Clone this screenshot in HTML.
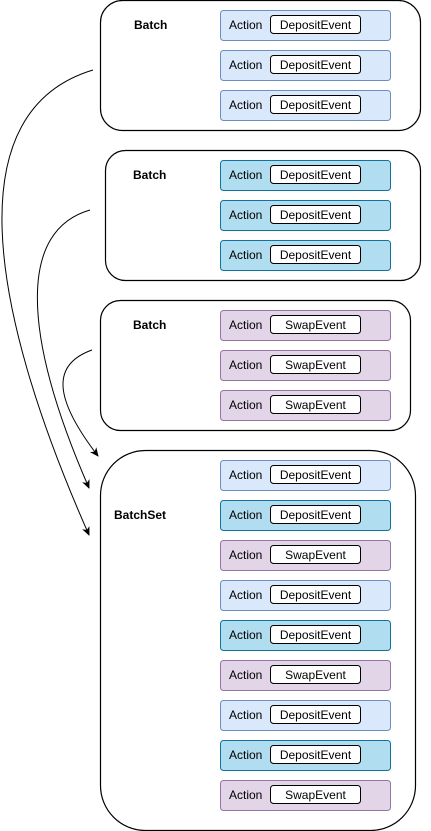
<!DOCTYPE html>
<html><head><style>body{margin:0;background:#fff}svg{display:block}</style></head><body>
<svg width="431" height="831" xmlns="http://www.w3.org/2000/svg" font-family="Liberation Sans, Arial, sans-serif">
<defs><marker id="a" markerWidth="10" markerHeight="10" refX="8" refY="4" orient="auto" markerUnits="userSpaceOnUse"><path d="M0,0 L9,4 L0,8 L2.5,4 Z" fill="#000"/></marker></defs>
<g fill="#fff" stroke="#000" stroke-width="1.2">
<rect x="100.5" y="0.5" width="320" height="130" rx="22"/>
<rect x="105.5" y="150.5" width="315" height="130" rx="20"/>
<rect x="100.5" y="300.5" width="310" height="130" rx="20"/>
<rect x="100.5" y="450.5" width="315" height="380" rx="45"/>
</g>
<g font-size="12" font-weight="bold">
<text x="134" y="29">Batch</text>
<text x="133" y="179">Batch</text>
<text x="133" y="329">Batch</text>
<text x="114" y="519">BatchSet</text>
</g>
<g fill="none" stroke="#000" stroke-width="1">
<path d="M93,70 C -40,110 -15,300 89,535" marker-end="url(#a)"/>
<path d="M90,210 C 20,230 20,330 89,488" marker-end="url(#a)"/>
<path d="M92,350 C 50,365 55,400 98,456" marker-end="url(#a)"/>
</g>
<g font-size="12">
<g transform="translate(220,10)"><rect x="0.5" y="0.5" width="170" height="30" rx="3" fill="#dae8fc" stroke="#6c8ebf"/><text x="9" y="19">Action</text><rect x="50.5" y="5.5" width="90" height="18" rx="3" fill="#fff" stroke="#000"/><text x="95.5" y="19" text-anchor="middle">DepositEvent</text></g>
<g transform="translate(220,50)"><rect x="0.5" y="0.5" width="170" height="30" rx="3" fill="#dae8fc" stroke="#6c8ebf"/><text x="9" y="19">Action</text><rect x="50.5" y="5.5" width="90" height="18" rx="3" fill="#fff" stroke="#000"/><text x="95.5" y="19" text-anchor="middle">DepositEvent</text></g>
<g transform="translate(220,90)"><rect x="0.5" y="0.5" width="170" height="30" rx="3" fill="#dae8fc" stroke="#6c8ebf"/><text x="9" y="19">Action</text><rect x="50.5" y="5.5" width="90" height="18" rx="3" fill="#fff" stroke="#000"/><text x="95.5" y="19" text-anchor="middle">DepositEvent</text></g>
<g transform="translate(220,160)"><rect x="0.5" y="0.5" width="170" height="30" rx="3" fill="#b1ddf0" stroke="#10739e"/><text x="9" y="19">Action</text><rect x="50.5" y="5.5" width="90" height="18" rx="3" fill="#fff" stroke="#000"/><text x="95.5" y="19" text-anchor="middle">DepositEvent</text></g>
<g transform="translate(220,200)"><rect x="0.5" y="0.5" width="170" height="30" rx="3" fill="#b1ddf0" stroke="#10739e"/><text x="9" y="19">Action</text><rect x="50.5" y="5.5" width="90" height="18" rx="3" fill="#fff" stroke="#000"/><text x="95.5" y="19" text-anchor="middle">DepositEvent</text></g>
<g transform="translate(220,240)"><rect x="0.5" y="0.5" width="170" height="30" rx="3" fill="#b1ddf0" stroke="#10739e"/><text x="9" y="19">Action</text><rect x="50.5" y="5.5" width="90" height="18" rx="3" fill="#fff" stroke="#000"/><text x="95.5" y="19" text-anchor="middle">DepositEvent</text></g>
<g transform="translate(220,310)"><rect x="0.5" y="0.5" width="170" height="30" rx="3" fill="#e1d5e7" stroke="#9673a6"/><text x="9" y="19">Action</text><rect x="50.5" y="5.5" width="90" height="18" rx="3" fill="#fff" stroke="#000"/><text x="95.5" y="19" text-anchor="middle">SwapEvent</text></g>
<g transform="translate(220,350)"><rect x="0.5" y="0.5" width="170" height="30" rx="3" fill="#e1d5e7" stroke="#9673a6"/><text x="9" y="19">Action</text><rect x="50.5" y="5.5" width="90" height="18" rx="3" fill="#fff" stroke="#000"/><text x="95.5" y="19" text-anchor="middle">SwapEvent</text></g>
<g transform="translate(220,390)"><rect x="0.5" y="0.5" width="170" height="30" rx="3" fill="#e1d5e7" stroke="#9673a6"/><text x="9" y="19">Action</text><rect x="50.5" y="5.5" width="90" height="18" rx="3" fill="#fff" stroke="#000"/><text x="95.5" y="19" text-anchor="middle">SwapEvent</text></g>
<g transform="translate(220,460)"><rect x="0.5" y="0.5" width="170" height="30" rx="3" fill="#dae8fc" stroke="#6c8ebf"/><text x="9" y="19">Action</text><rect x="50.5" y="5.5" width="90" height="18" rx="3" fill="#fff" stroke="#000"/><text x="95.5" y="19" text-anchor="middle">DepositEvent</text></g>
<g transform="translate(220,500)"><rect x="0.5" y="0.5" width="170" height="30" rx="3" fill="#b1ddf0" stroke="#10739e"/><text x="9" y="19">Action</text><rect x="50.5" y="5.5" width="90" height="18" rx="3" fill="#fff" stroke="#000"/><text x="95.5" y="19" text-anchor="middle">DepositEvent</text></g>
<g transform="translate(220,540)"><rect x="0.5" y="0.5" width="170" height="30" rx="3" fill="#e1d5e7" stroke="#9673a6"/><text x="9" y="19">Action</text><rect x="50.5" y="5.5" width="90" height="18" rx="3" fill="#fff" stroke="#000"/><text x="95.5" y="19" text-anchor="middle">SwapEvent</text></g>
<g transform="translate(220,580)"><rect x="0.5" y="0.5" width="170" height="30" rx="3" fill="#dae8fc" stroke="#6c8ebf"/><text x="9" y="19">Action</text><rect x="50.5" y="5.5" width="90" height="18" rx="3" fill="#fff" stroke="#000"/><text x="95.5" y="19" text-anchor="middle">DepositEvent</text></g>
<g transform="translate(220,620)"><rect x="0.5" y="0.5" width="170" height="30" rx="3" fill="#b1ddf0" stroke="#10739e"/><text x="9" y="19">Action</text><rect x="50.5" y="5.5" width="90" height="18" rx="3" fill="#fff" stroke="#000"/><text x="95.5" y="19" text-anchor="middle">DepositEvent</text></g>
<g transform="translate(220,660)"><rect x="0.5" y="0.5" width="170" height="30" rx="3" fill="#e1d5e7" stroke="#9673a6"/><text x="9" y="19">Action</text><rect x="50.5" y="5.5" width="90" height="18" rx="3" fill="#fff" stroke="#000"/><text x="95.5" y="19" text-anchor="middle">SwapEvent</text></g>
<g transform="translate(220,700)"><rect x="0.5" y="0.5" width="170" height="30" rx="3" fill="#dae8fc" stroke="#6c8ebf"/><text x="9" y="19">Action</text><rect x="50.5" y="5.5" width="90" height="18" rx="3" fill="#fff" stroke="#000"/><text x="95.5" y="19" text-anchor="middle">DepositEvent</text></g>
<g transform="translate(220,740)"><rect x="0.5" y="0.5" width="170" height="30" rx="3" fill="#b1ddf0" stroke="#10739e"/><text x="9" y="19">Action</text><rect x="50.5" y="5.5" width="90" height="18" rx="3" fill="#fff" stroke="#000"/><text x="95.5" y="19" text-anchor="middle">DepositEvent</text></g>
<g transform="translate(220,780)"><rect x="0.5" y="0.5" width="170" height="30" rx="3" fill="#e1d5e7" stroke="#9673a6"/><text x="9" y="19">Action</text><rect x="50.5" y="5.5" width="90" height="18" rx="3" fill="#fff" stroke="#000"/><text x="95.5" y="19" text-anchor="middle">SwapEvent</text></g>
</g>
</svg>
</body></html>
